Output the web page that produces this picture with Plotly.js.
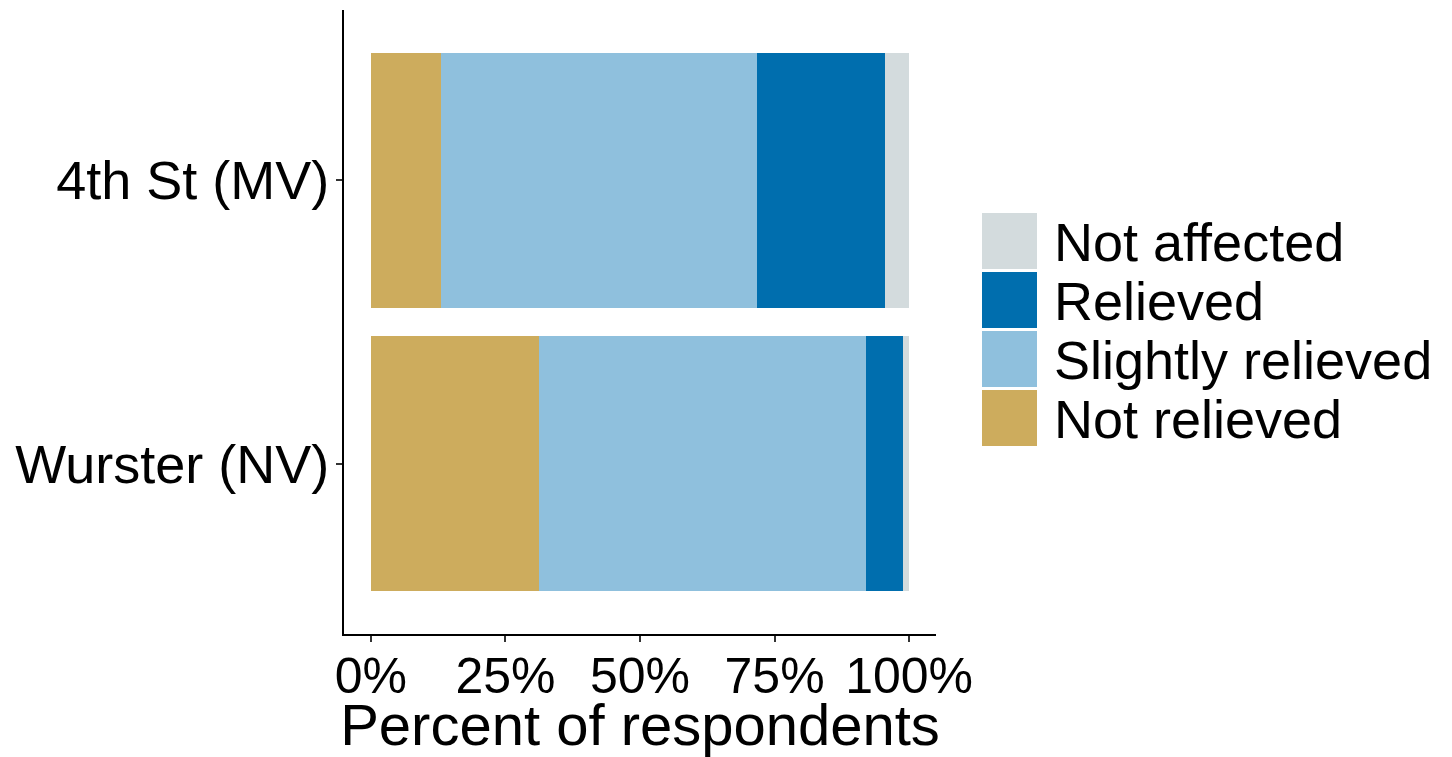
<!DOCTYPE html>
<html>
<head>
<meta charset="utf-8">
<script src="https://cdn.plot.ly/plotly-3.0.1.min.js"></script>
<style>html,body{margin:0;padding:0;background:#fff;}#chart{width:1452px;height:757px;}</style>
</head>
<body>
<div id="chart"></div>
<script>
// ---- data ----
var categories = ['4th St (MV)', 'Wurster (NV)'];
var notRelieved = [13.0, 31.3];
var slightlyRelieved = [58.7, 60.6];
var relieved = [23.9, 7.0];
var notAffected = [4.4, 1.1];
var seriesNames = ['Not relieved', 'Slightly relieved', 'Relieved', 'Not affected'];
var tickVals = [0, 25, 50, 75, 100];
var tickLabels = ['0%', '25%', '50%', '75%', '100%'];

// ---- style ----
var colors = ['#CDAC5D', '#8FC0DD', '#006EAE', '#D3DBDD'];
var FONT = 'Liberation Sans, Arial, sans-serif';
var W = 1452, H = 757;
var L = 344, R = 936, T = 10, B = 634;

var seriesData = [notRelieved, slightlyRelieved, relieved, notAffected];
var traces = seriesData.map(function (vals, i) {
  return {
    type: 'bar', orientation: 'h', name: seriesNames[i],
    x: vals, y: categories,
    marker: {color: colors[i], line: {width: 0}},
    showlegend: false, hoverinfo: 'x+name'
  };
});

// custom legend (big keys like ggplot)
function px2x(p) { return (p - L) / (R - L); }
function py2y(p) { return (B - p) / (B - T); }
var shapes = [], annotations = [];
var legendOrder = [3, 2, 1, 0];
legendOrder.forEach(function (si, k) {
  var top = 213 + 59 * k, bot = top + 56;
  shapes.push({type: 'rect', xref: 'paper', yref: 'paper',
    x0: px2x(982), x1: px2x(1037), y0: py2y(bot), y1: py2y(top),
    fillcolor: colors[si], line: {width: 0}});
  annotations.push({xref: 'paper', yref: 'paper', x: px2x(1052), y: py2y((top + bot) / 2 + 1),
    xanchor: 'left', yanchor: 'middle', showarrow: false, text: seriesNames[si],
    font: {family: FONT, size: 54, color: '#000'}});
});

var layout = {
  width: W, height: H,
  margin: {l: L, r: W - R, t: T, b: H - B, pad: 0},
  paper_bgcolor: '#fff', plot_bgcolor: '#fff',
  barmode: 'stack', bargap: 0.1,
  showlegend: false,
  xaxis: {
    range: [-5, 105], tickvals: tickVals, ticktext: tickLabels,
    showgrid: false, zeroline: false, showline: true, linecolor: '#000', linewidth: 2,
    ticks: 'outside', ticklen: 6, tickwidth: 2, tickcolor: '#333',
    ticklabelstandoff: -9,
    tickfont: {family: FONT, size: 50, color: '#000'},
    title: {text: 'Percent of respondents', font: {family: FONT, size: 58, color: '#000'}, standoff: 4},
    automargin: false, fixedrange: true
  },
  yaxis: {
    type: 'category', categoryorder: 'array', categoryarray: categories,
    range: [1.6, -0.6],
    showgrid: false, zeroline: false, showline: true, linecolor: '#000', linewidth: 2,
    ticks: 'outside', ticklen: 6, tickwidth: 2, tickcolor: '#333',
    ticklabelstandoff: -4,
    tickfont: {family: FONT, size: 54, color: '#000'},
    automargin: false, fixedrange: true
  },
  shapes: shapes,
  annotations: annotations
};

Plotly.newPlot('chart', traces, layout, {displayModeBar: false, staticPlot: true});
</script>
</body>
</html>
